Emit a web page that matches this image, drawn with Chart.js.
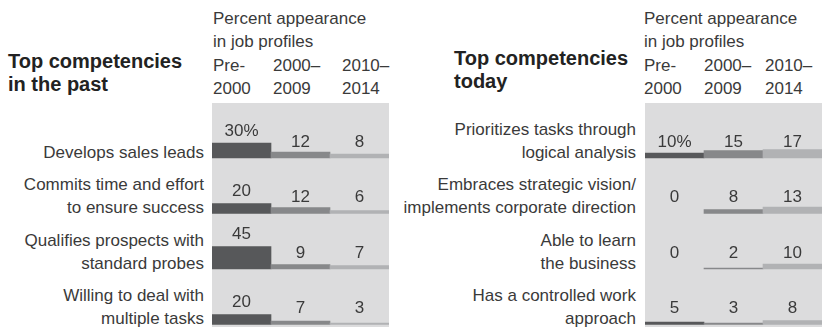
<!DOCTYPE html>
<html>
<head>
<meta charset="utf-8">
<script src="https://cdn.jsdelivr.net/npm/chart.js@4"></script>
<style>
  html, body { margin:0; padding:0; background:#ffffff; }
  body { width:822px; height:327px; position:relative; overflow:hidden;
         font-family:"Liberation Sans", Arial, Helvetica, sans-serif; color:#3a3a3a; }
  .t { position:absolute; font-size:17px; line-height:23px; white-space:nowrap; }
  .title { position:absolute; font-size:20px; line-height:23px; font-weight:bold; color:#222; white-space:nowrap; }
  .lbl { position:absolute; font-size:17px; line-height:23px; text-align:right; white-space:nowrap; }
  canvas { position:absolute; background:#dcdcdd; }
</style>
</head>
<body>
<div id="root"></div>
<canvas id="cPast" width="177" height="224" style="left:212px;top:103px;width:177px;height:224px"></canvas>
<canvas id="cToday" width="177" height="224" style="left:645px;top:103px;width:177px;height:224px"></canvas>
<script>
// ---- data ----
const periods = ['Pre-2000', '2000–2009', '2010–2014'];
const periodHeader = [['Pre-', '2000'], ['2000–', '2009'], ['2010–', '2014']];
const axisTitle = ['Percent appearance', 'in job profiles'];

const pastTitle = ['Top competencies', 'in the past'];
const pastCompetencies = [
  ['Develops sales leads'],
  ['Commits time and effort', 'to ensure success'],
  ['Qualifies prospects with', 'standard probes'],
  ['Willing to deal with', 'multiple tasks']
];
const pastPre2000 = [30, 20, 45, 20];
const past2000s   = [12, 12, 9, 7];
const past2010s   = [8, 6, 7, 3];

const todayTitle = ['Top competencies', 'today'];
const todayCompetencies = [
  ['Prioritizes tasks through', 'logical analysis'],
  ['Embraces strategic vision/', 'implements corporate direction'],
  ['Able to learn', 'the business'],
  ['Has a controlled work', 'approach']
];
const todayPre2000 = [10, 0, 0, 5];
const today2000s   = [15, 8, 2, 3];
const today2010s   = [17, 13, 10, 8];

const barColors = ['#57585a', '#87888a', '#b1b2b4'];

// ---- static text (HTML) ----
const root = document.getElementById('root');
function addText(cls, text, left, top, right) {
  const d = document.createElement('div');
  d.className = cls;
  d.textContent = text;
  d.style.top = top + 'px';
  if (right !== undefined) { d.style.right = right + 'px'; } else { d.style.left = left + 'px'; }
  root.appendChild(d);
}
function panelText(title, titleX, titleY, competencies, labelRight, headX, colX) {
  title.forEach((s, i) => addText('title', s, titleX, titleY + i * 23));
  axisTitle.forEach((s, i) => addText('t', s, headX, 7 + i * 23));
  periodHeader.forEach((lines, c) => lines.forEach((s, i) => addText('t', s, colX[c], 54 + i * 23)));
  const baselines = [158.5, 214, 269.5, 325];
  competencies.forEach((lines, r) => {
    const n = lines.length;
    lines.forEach((s, i) => addText('lbl', s, 0, baselines[r] - 18 - (n - 1 - i) * 23, 822 - labelRight));
  });
}
panelText(pastTitle, 8, 50, pastCompetencies, 204, 213, [213, 273, 342]);
panelText(todayTitle, 454, 47, todayCompetencies, 636, 644, [644, 704, 765]);

// ---- charts ----
const ROW_UNITS = 111;   // vertical slot per competency in value units (0.5px per unit)
const BOTTOM_UNITS = 5;

function buildDatasets(series) {
  const nRows = series[0].length;
  const ds = [];
  for (let r = 0; r < nRows; r++) {
    const base = BOTTOM_UNITS + (nRows - 1 - r) * ROW_UNITS;
    ds.push({
      label: 'row' + r,
      data: series.map(s => (s[r] > 0 ? [base, base + s[r]] : null)),
      values: series.map(s => s[r]),
      rowBase: base,
      backgroundColor: barColors,
      borderWidth: 0,
      grouped: false,
      barPercentage: 1.0,
      categoryPercentage: 1.0
    });
  }
  return ds;
}

const valueLabels = {
  id: 'valueLabels',
  afterDatasetsDraw(chart) {
    const ctx = chart.ctx;
    const xs = chart.scales.x, ys = chart.scales.y;
    ctx.save();
    ctx.font = '17px "Liberation Sans", Arial, sans-serif';
    ctx.fillStyle = '#3a3a3a';
    ctx.textAlign = 'center';
    ctx.textBaseline = 'middle';
    chart.data.datasets.forEach((ds, r) => {
      ds.values.forEach((v, c) => {
        const x = xs.getPixelForValue(c);
        const base = ys.getPixelForValue(ds.rowBase);
        const top = ys.getPixelForValue(ds.rowBase + v);
        let y = base - 16;
        if (top < y + 7) y = top - 12;
        const txt = (r === 0 && c === 0) ? v + '%' : String(v);
        ctx.fillText(txt, x, y);
      });
    });
    ctx.restore();
  }
};

function makeChart(id, series) {
  return new Chart(document.getElementById(id), {
    type: 'bar',
    data: { labels: periods, datasets: buildDatasets(series) },
    options: {
      responsive: false,
      animation: false,
      events: [],
      layout: { padding: 0 },
      plugins: { legend: { display: false }, tooltip: { enabled: false } },
      scales: {
        x: { display: false, offset: true, grid: { display: false } },
        y: { display: false, min: 0, max: 448 }
      }
    },
    plugins: [valueLabels]
  });
}

makeChart('cPast', [pastPre2000, past2000s, past2010s]);
makeChart('cToday', [todayPre2000, today2000s, today2010s]);
</script>
</body>
</html>
